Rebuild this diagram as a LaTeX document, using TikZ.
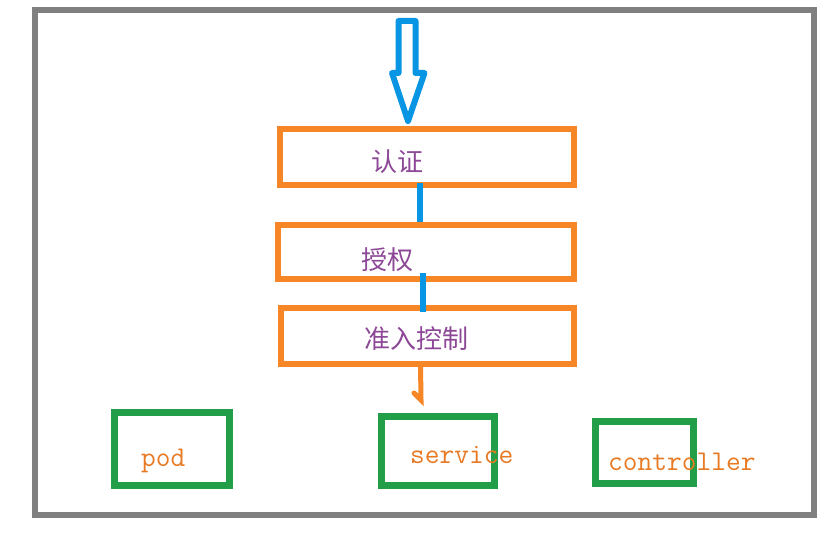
\documentclass[tikz,border=0pt]{standalone}
\usepackage{fontspec}
\newfontfamily\cjk{Noto Sans CJK SC}
\definecolor{frame}{RGB}{128,128,128}
\definecolor{obox}{RGB}{247,134,38}
\definecolor{gbox}{RGB}{34,158,72}
\definecolor{bline}{RGB}{8,150,228}
\definecolor{ptext}{RGB}{140,72,150}
\definecolor{otext}{RGB}{232,122,36}
\tikzset{
  stagebox/.style={draw=obox, line width=6pt, outer sep=0pt, inner sep=0pt},
  objbox/.style={draw=gbox, line width=7pt, outer sep=0pt, inner sep=0pt},
  stagetext/.style={text=ptext, inner sep=0pt, font=\cjk\fontsize{26}{30}\selectfont},
  objtext/.style={text=otext, inner sep=0pt, anchor=base west, font=\ttfamily\fontsize{28.6}{32}\selectfont},
  bluelink/.style={draw=bline, line width=5.5pt},
  orangelink/.style={draw=obox, line width=5pt, line cap=round}
}
\begin{document}
\begin{tikzpicture}[x=1pt,y=-1pt]
\useasboundingbox (0,0) rectangle (836,535);
\fill[white] (0,0) rectangle (836,535);
% outer frame
\draw[frame, line width=6pt] (35,10.5) rectangle (814,514.5);
% hollow input arrow
\draw[bline, line width=6pt, line join=round]
  (398.5,21) -- (415.5,21) -- (415.5,73) -- (424.5,73) -- (408,121) -- (392,73) -- (398.5,73) -- cycle;
% stage boxes
\node[stagebox, minimum width=294pt, minimum height=56pt] (auth) at (427,157) {};
\node[stagebox, minimum width=296pt, minimum height=54pt] (authz) at (426,252) {};
\node[stagebox, minimum width=293pt, minimum height=56pt] (adm) at (427.5,336) {};
% links
\draw[bluelink] ([xshift=-7pt,yshift=2pt]auth.south) -- ([xshift=-6pt,yshift=3pt]authz.north);
\draw[bluelink] ([xshift=-3pt,yshift=6pt]authz.south) -- ([xshift=-4.5pt,yshift=-4pt]adm.north);
\coordinate (stubend) at (421,400);
\coordinate (stubhook) at (414,393);
\draw[orangelink] ([xshift=-7pt]adm.south) -- (stubend) -- (stubhook);
% stage texts
\node[stagetext] (t1) at (397,162) {认证};
\node[stagetext] (t2) at (387,260) {授权};
\node[stagetext] (t3) at (416,339) {准入控制};
% object boxes
\node[objbox, minimum width=114.5pt, minimum height=73pt] (pod) at (172,449) {};
\node[objbox, minimum width=113pt, minimum height=69pt] (svc) at (438,451) {};
\node[objbox, minimum width=98pt, minimum height=62pt] (ctl) at (644.5,452.5) {};
% object texts
\node[objtext] (podt) at (141,466) {pod};
\node[objtext] (svct) at (410,463) {service};
\node[objtext] (ctlt) at (608,470) {controller};
\end{tikzpicture}
\end{document}
